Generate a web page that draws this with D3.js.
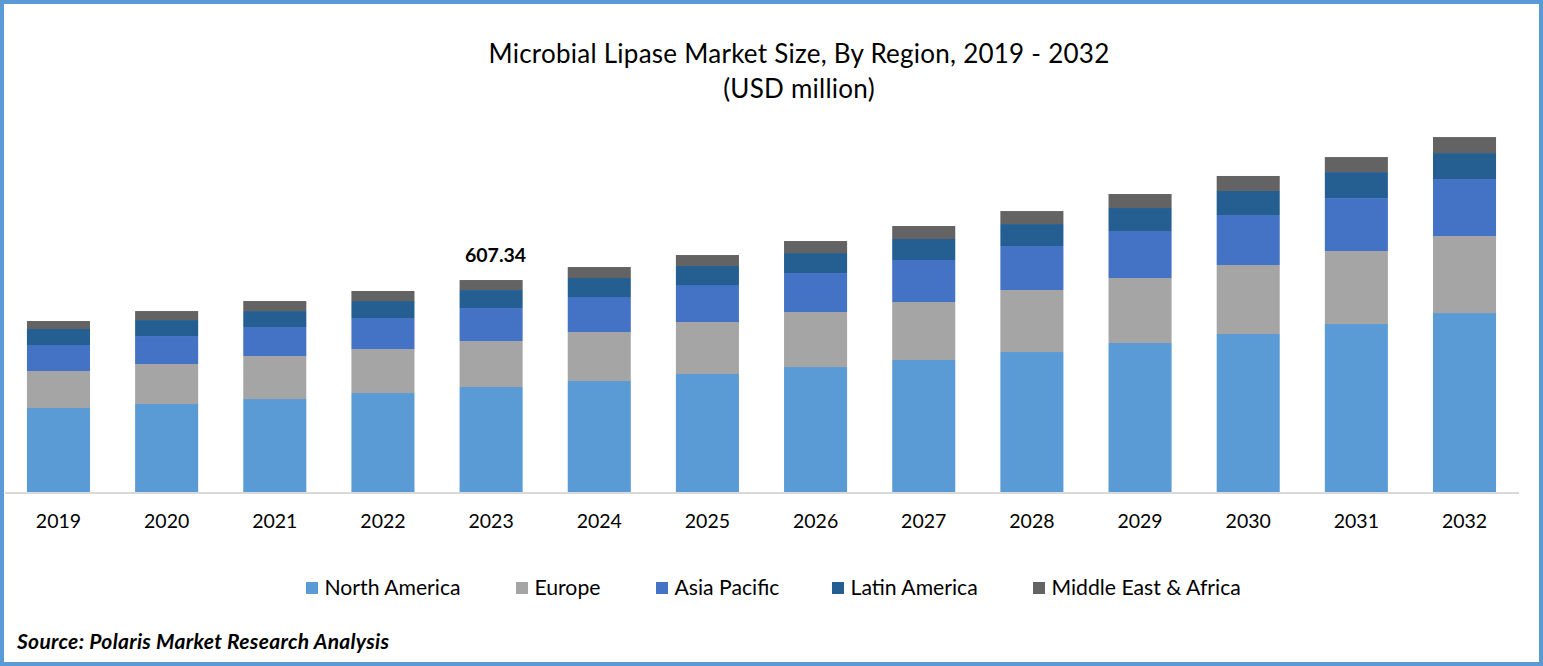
<!DOCTYPE html>
<html>
<head>
<meta charset="utf-8">
<script src="https://cdn.jsdelivr.net/npm/d3@7"></script>
<style>
  html, body { margin: 0; padding: 0; background: #fff; overflow: hidden; }
  svg { display: block; font-family: Lato, "Open Sans", sans-serif; }
</style>
</head>
<body>
<svg width="1543" height="666"></svg>
<script>
const years = [2019, 2020, 2021, 2022, 2023, 2024, 2025, 2026, 2027, 2028, 2029, 2030, 2031, 2032];
const regions = ["North America", "Europe", "Asia Pacific", "Latin America", "Middle East & Africa"];

// USD million
const northAmerica = [240.7, 252.1, 266.4, 283.6, 300.8, 318.0, 338.1, 358.1, 378.2, 401.1, 426.9, 452.7, 481.3, 512.8];
const europe = [106.0, 114.6, 123.2, 126.1, 131.8, 140.4, 149.0, 157.6, 166.2, 177.6, 186.2, 197.7, 209.1, 220.6];
const asiaPacific = [74.5, 80.2, 83.1, 88.8, 94.5, 100.3, 106.0, 111.7, 120.3, 126.1, 134.7, 143.3, 151.8, 163.3];
const latinAmerica = [45.8, 45.8, 45.8, 48.7, 51.6, 54.4, 54.4, 57.3, 60.2, 63.0, 65.9, 68.8, 74.5, 74.5];
const middleEast = [22.9, 25.8, 28.7, 28.7, 28.64, 31.5, 31.5, 34.4, 37.2, 37.2, 40.1, 43.0, 43.0, 45.8];

const colors = ["#5b9bd5", "#a5a5a5", "#4472c4", "#255e91", "#636363"];
const calloutYear = 2023;

const svg = d3.select("svg");
const width = 1543, height = 666;

const rows = years.map((year, i) => ({
  year,
  [regions[0]]: northAmerica[i],
  [regions[1]]: europe[i],
  [regions[2]]: asiaPacific[i],
  [regions[3]]: latinAmerica[i],
  [regions[4]]: middleEast[i]
}));
const series = d3.stack().keys(regions)(rows);

const x = d3.scaleBand().domain(years).range([4.4, 1518.6]).paddingInner(0.417).paddingOuter(0.2085);
const y = d3.scaleLinear().domain([0, 1000]).range([492, 143]);
const color = d3.scaleOrdinal().domain(regions).range(colors);

// frame
svg.append("rect")
  .attr("x", 2).attr("y", 2)
  .attr("width", width - 4).attr("height", height - 4)
  .attr("fill", "#fff")
  .attr("stroke", "#5b9bd5")
  .attr("stroke-width", 4);

// title
const title = svg.append("text")
  .attr("text-anchor", "middle")
  .attr("fill", "#000")
  .style("font-size", "26px")
  .style("letter-spacing", "0.25px");
title.append("tspan").attr("x", 799).attr("y", 63).text("Microbial Lipase Market Size, By Region, 2019 - 2032");
title.append("tspan").attr("x", 799).attr("y", 98).text("(USD million)");

// bars
svg.append("g").selectAll("g")
  .data(series)
  .enter()
  .append("g")
  .attr("fill", d => color(d.key))
  .selectAll("rect")
  .data(d => d)
  .enter()
  .append("rect")
  .attr("x", d => x(d.data.year))
  .attr("y", d => y(d[1]))
  .attr("width", x.bandwidth())
  .attr("height", d => y(d[0]) - y(d[1]));

// axis
const axis = svg.append("g")
  .attr("transform", "translate(0,492.5)")
  .call(d3.axisBottom(x).tickSize(0).tickPadding(22));
axis.select(".domain").attr("stroke", "#d9d9d9").attr("stroke-width", 2);
axis.selectAll("text")
  .attr("fill", "#000")
  .style("font-family", "Lato, 'Open Sans', sans-serif")
  .style("font-size", "19.5px");

// callout on one bar
const calloutRow = rows.find(d => d.year === calloutYear);
svg.append("text")
  .attr("x", x(calloutYear) + x.bandwidth() / 2 + 4.5)
  .attr("y", y(d3.sum(regions, r => calloutRow[r])) - 18)
  .attr("text-anchor", "middle")
  .attr("fill", "#000")
  .style("font-size", "19.5px")
  .style("font-weight", "700")
  .text(d3.format(".2f")(d3.sum(regions, r => calloutRow[r])));

// legend
const legendLeft = [306, 516, 656, 832, 1033];
const legend = svg.append("g").selectAll("g")
  .data(regions)
  .enter()
  .append("g")
  .attr("transform", (d, i) => `translate(${legendLeft[i]},582)`);
legend.append("rect")
  .attr("width", 12).attr("height", 12)
  .attr("fill", d => color(d));
legend.append("text")
  .attr("x", 18.5).attr("y", 13)
  .attr("fill", "#000")
  .style("font-size", "21.2px")
  .text(d => d);

// source
svg.append("text")
  .attr("x", 17).attr("y", 648.5)
  .attr("fill", "#000")
  .style("font-size", "21px")
  .style("font-weight", "700")
  .style("font-style", "italic")
  .style("letter-spacing", "0.3px")
  .text("Source: Polaris Market Research Analysis");
</script>
</body>
</html>
